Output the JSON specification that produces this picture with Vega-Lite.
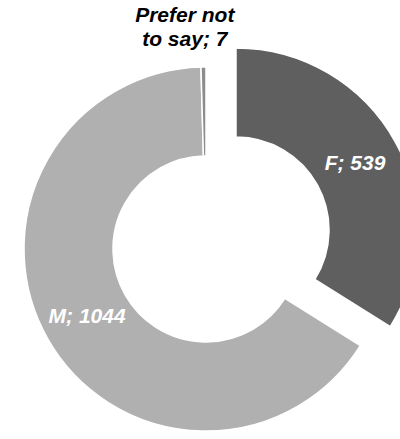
{
  "$schema": "https://vega.github.io/schema/vega-lite/v6.json",
  "width": 388,
  "height": 380,
  "autosize": "none",
  "padding": {"left": 12, "top": 59, "right": 0, "bottom": 0},
  "background": "white",
  "view": {"stroke": null},
  "data": {
    "values": [
      {"cat": "F", "n": 539, "order": 1},
      {"cat": "M", "n": 1044, "order": 2},
      {"cat": "Prefer not to say", "n": 7, "order": 3}
    ]
  },
  "transform": [
    {"calculate": "datum.cat === 'Prefer not to say' ? 'Prefer not\\nto say; ' + datum.n : datum.cat + '; ' + datum.n", "as": "label"}
  ],
  "encoding": {
    "theta": {"field": "n", "type": "quantitative", "stack": true},
    "order": {"field": "order", "type": "quantitative"},
    "color": {
      "field": "cat",
      "type": "nominal",
      "scale": {"domain": ["F", "M", "Prefer not to say"], "range": ["#5f5f5f", "#b0b0b0", "#8c8c8c"]},
      "legend": null
    }
  },
  "layer": [
    {
      "mark": {"type": "arc", "radius": 182, "radius2": 93, "stroke": "white", "strokeWidth": 1.5},
      "encoding": {
        "opacity": {"condition": {"test": "datum.cat === 'F'", "value": 0}, "value": 1}
      }
    },
    {
      "transform": [{"filter": "datum.cat === 'F'"}],
      "mark": {"type": "arc", "radius": 182, "radius2": 93, "stroke": "white", "strokeWidth": 1.5, "xOffset": 30, "yOffset": -19}
    },
    {
      "transform": [{"filter": "datum.cat === 'F'"}],
      "mark": {"type": "text", "radius": 136, "xOffset": 30, "yOffset": -19, "font": "Liberation Sans", "fontSize": 21, "fontWeight": "bold", "fontStyle": "italic", "align": "center", "baseline": "middle"},
      "encoding": {"text": {"field": "label"}, "color": {"value": "white"}}
    },
    {
      "mark": {"type": "text", "radius": 137, "font": "Liberation Sans", "fontSize": 21, "fontWeight": "bold", "fontStyle": "italic", "align": "center", "baseline": "middle"},
      "encoding": {
        "text": {"condition": {"test": "datum.cat !== 'M'", "value": ""}, "field": "label"},
        "color": {"value": "white"}
      }
    },
    {
      "mark": {"type": "text", "radius": 233, "dx": -18, "lineBreak": "\n", "lineHeight": 24, "font": "Liberation Sans", "fontSize": 21, "fontWeight": "bold", "fontStyle": "italic", "align": "center", "baseline": "middle"},
      "encoding": {
        "text": {"condition": {"test": "datum.cat !== 'Prefer not to say'", "value": ""}, "field": "label"},
        "color": {"value": "black"}
      }
    }
  ]
}
